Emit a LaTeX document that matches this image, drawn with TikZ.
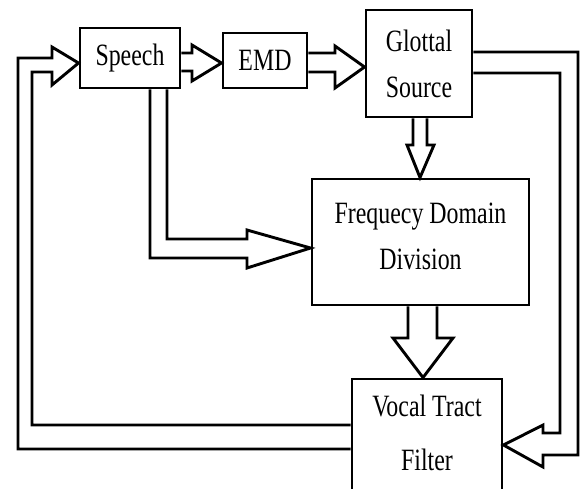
\documentclass[tikz,border=0pt]{standalone}
\usepackage{fontspec}
\newfontfamily\labfont[FakeStretch=0.77]{Liberation Serif}
\usetikzlibrary{calc}
\begin{document}
\begin{tikzpicture}[x=1pt,y=-1pt,
  lab/.style={inner sep=0pt, align=center, font=\labfont\fontsize{31}{46}\selectfont},
  box/.style={draw, line width=2.9pt, inner sep=0pt, lab},
  blk/.style={draw, line width=2.9pt, line join=miter, miter limit=10}]
\useasboundingbox (0,0) rectangle (580,488);
\clip (0,0) rectangle (580,488);
% boxes
\node[box, minimum width=100pt, minimum height=60pt] (speech) at (130,58) {Speech};
\node[box, minimum width=84pt, minimum height=55pt] (emd) at (265,60.5) {EMD};
\node[box, minimum width=106pt, minimum height=107pt] (glottal) at (419,63.5) {Glottal\\Source};
\node[box, minimum width=217pt, minimum height=126pt,
      label={[lab, yshift=6pt]center:Frequecy Domain\\Division}] (fdd) at (420.5,242) {};
\node[box, minimum width=150pt, minimum height=120pt,
      label={[lab, font=\labfont\fontsize{31}{54}\selectfont, yshift=6pt]center:Vocal Tract\\Filter}] (vtf) at (427,439) {};
% block arrows
\draw[blk] (speech.east |- 0,53) -- (192,53) -- (192,45) -- (emd.west |- 0,63) -- (192,81) -- (192,71) -- (speech.east |- 0,71);
\draw[blk] (emd.east |- 0,53) -- (335,53) -- (335,46) -- (glottal.west |- 0,67) -- (335,88) -- (335,72) -- (emd.east |- 0,72);
\draw[blk] (glottal.south -| 413,0) -- (413,145) -- (407,145) -- (fdd.north -| 420,0) -- (434,145) -- (427,145) -- (glottal.south -| 427,0);
\draw[blk] (fdd.south -| 408,0) -- (408,338) -- (393,338) -- (vtf.north -| 423,0) -- (453,338) -- (437,338) -- (fdd.south -| 437,0);
\draw[blk] (speech.south -| 150,0) -- (150,258) -- (247,258) -- (247,268) -- (fdd.west |- 0,248) -- (247,230) -- (247,239) -- (167,239) -- (speech.south -| 167,0);
\draw[blk] (glottal.east |- 0,52) -- (578,52) -- (578,455) -- (543,455) -- (543,467) -- (vtf.east |- 0,445) -- (543,425) -- (543,433) -- (560,433) -- (560,73) -- (glottal.east |- 0,73);
\draw[blk] (vtf.west |- 0,449) -- (18,449) -- (18,58) -- (52,58) -- (52,47) -- (speech.west |- 0,63) -- (52,85) -- (52,72) -- (32,72) -- (32,425) -- (vtf.west |- 0,425);
\end{tikzpicture}
\end{document}
